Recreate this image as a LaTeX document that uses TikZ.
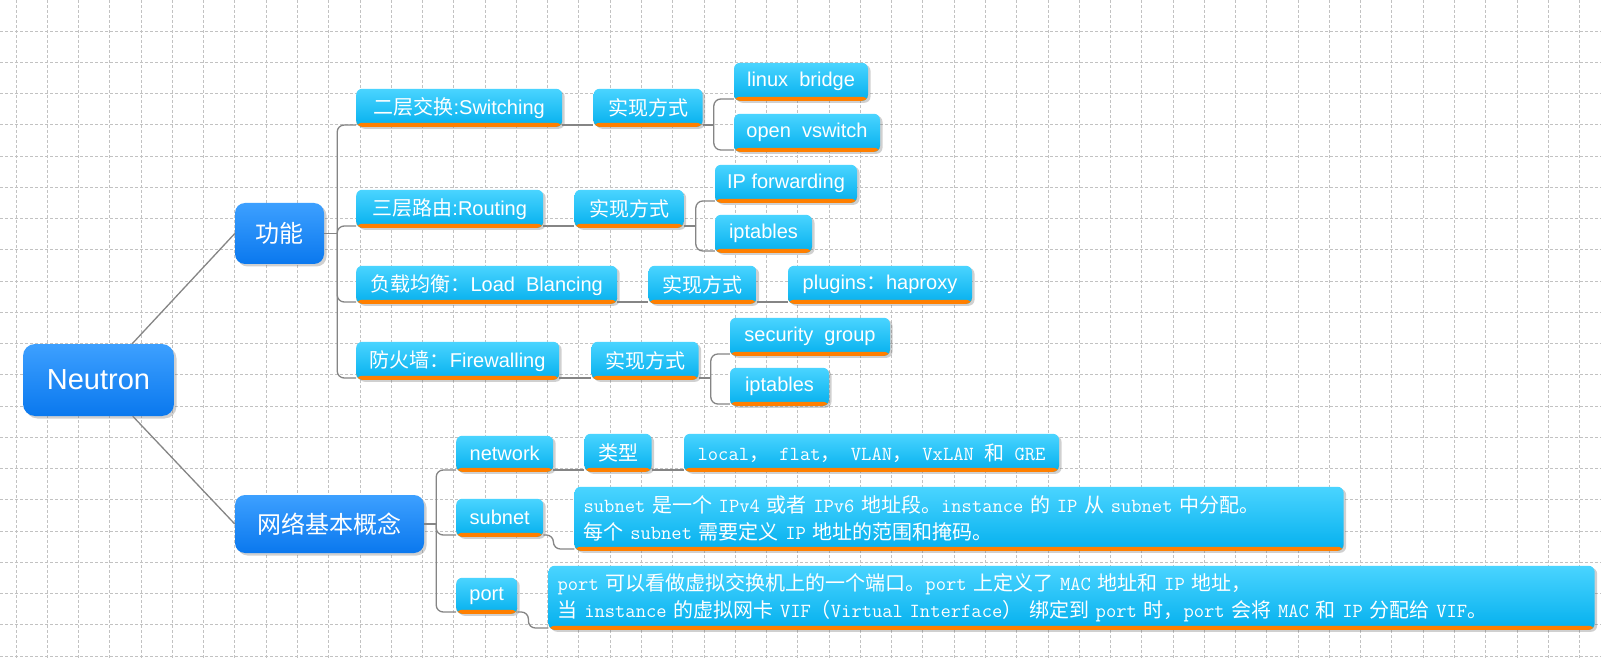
\documentclass[tikz,border=0pt]{standalone}
\usepackage{fontspec}
\setmainfont{Liberation Sans}
\newfontfamily\cjk{Noto Sans CJK SC}
\newcommand{\zh}[1]{{\cjk #1}}
\usetikzlibrary{positioning, shadows}
\definecolor{rootTop}{HTML}{3DA0FF}
\definecolor{rootBot}{HTML}{0A78EE}
\definecolor{leafTop}{HTML}{4AD4FF}
\definecolor{leafBot}{HTML}{04B0EE}
\definecolor{barOrange}{HTML}{FF7F00}
\definecolor{linkGray}{HTML}{858585}
\definecolor{gridGray}{HTML}{C2C2C2}
\tikzset{
  hubbox/.style={rectangle, rounded corners=11pt, top color=rootTop, bottom color=rootBot, text=white, inner sep=0pt,
    drop shadow={shadow xshift=2.5pt, shadow yshift=-2.5pt, opacity=0.3, fill=black!60}},
  topicbox/.style={rectangle, rounded corners=6pt, top color=leafTop, bottom color=leafBot, text=white,
    inner xsep=10pt, inner ysep=0pt, minimum height=38pt, font=\fontsize{20}{24}\selectfont,
    path picture={\fill[barOrange] (path picture bounding box.south west) rectangle ([yshift=4pt]path picture bounding box.south east);},
    drop shadow={shadow xshift=2.5pt, shadow yshift=-2pt, opacity=0.3, fill=black!60}},
  notebox/.style={topicbox, font=\ttfamily\fontsize{20}{27}\selectfont, align=left, inner xsep=9pt, minimum height=64pt},
  linkline/.style={draw=linkGray, line width=1.3pt},
  elbowline/.style={linkline, rounded corners=7pt},
  gridline/.style={draw=gridGray, dash pattern=on 3pt off 2pt, line width=0.8pt}
}
\begin{document}
\begin{tikzpicture}[x=1pt, y=1pt]
\fill[white] (0,0) rectangle (1601,-660);
\useasboundingbox (0,0) rectangle (1601,-660);
% grid
\foreach \gx in {0,...,50}
  \draw[gridline] ({16+31.27*\gx},0) -- ({16+31.27*\gx},-660);
\foreach \gy in {0,...,20}
  \draw[gridline] (0,{-31-31.25*\gy}) -- (1601,{-31-31.25*\gy});

% centre and main branches
\node (neutron) [hubbox, minimum width=151pt, minimum height=72pt, rounded corners=12pt, font=\fontsize{29}{34}\selectfont] at (98.5,-380) {Neutron};
\node (gn) [hubbox, minimum width=89pt, minimum height=61pt, rounded corners=10pt, font=\fontsize{24}{28}\selectfont] at (279.5,-233.5) {\zh{功能}};
\node (wl) [hubbox, minimum width=189pt, minimum height=58pt, rounded corners=10pt, font=\fontsize{24}{28}\selectfont] at (329.5,-524) {\zh{网络基本概念}};

% functions
\node (sw) [topicbox, anchor=south west, minimum width=206pt] at (356,-127) {\zh{二层交换}:Switching};
\node (rt) [topicbox, anchor=south west, minimum width=187pt] at (356,-228) {\zh{三层路由}:Routing};
\node (lb) [topicbox, anchor=south west, minimum width=261pt] at (356,-304) {\zh{负载均衡：}Load~~Blancing};
\node (fw) [topicbox, anchor=south west, minimum width=203pt] at (356,-380) {\zh{防火墙：}Firewalling};

\node (swimpl) [topicbox, right=31pt of sw.south east, anchor=south west, minimum width=109pt] {\zh{实现方式}};
\node (linux) [topicbox, right=31pt of swimpl.south east, anchor=south west, yshift=26pt, minimum width=134pt] {linux~~bridge};
\node (ovs) [topicbox, right=31pt of swimpl.south east, anchor=south west, yshift=-25pt, minimum width=146pt] {open~~vswitch};

\node (rtimpl) [topicbox, right=31pt of rt.south east, anchor=south west, minimum width=109pt] {\zh{实现方式}};
\node (ipfwd) [topicbox, right=31pt of rtimpl.south east, anchor=south west, yshift=25pt, minimum width=142pt] {IP forwarding};
\node (iptrt) [topicbox, right=31pt of rtimpl.south east, anchor=south west, yshift=-25pt, minimum width=97pt] {iptables};

\node (lbimpl) [topicbox, right=31pt of lb.south east, anchor=south west, minimum width=108pt] {\zh{实现方式}};
\node (plug) [topicbox, right=31pt of lbimpl.south east, anchor=south west, minimum width=184pt] {plugins\zh{：}haproxy};

\node (fwimpl) [topicbox, right=32pt of fw.south east, anchor=south west, minimum width=107pt] {\zh{实现方式}};
\node (secgrp) [topicbox, right=31pt of fwimpl.south east, anchor=south west, yshift=24pt, minimum width=160pt] {security~~group};
\node (iptfw) [topicbox, right=31pt of fwimpl.south east, anchor=south west, yshift=-26pt, minimum width=99pt] {iptables};

% basic concepts
\node (nw) [topicbox, anchor=south west, minimum width=97pt, minimum height=36pt] at (456,-472) {network};
\node (sn) [topicbox, anchor=south west, minimum width=87pt] at (456,-537) {subnet};
\node (pt) [topicbox, anchor=south west, minimum width=61pt, minimum height=36pt] at (456,-614) {port};

\node (nwtype) [topicbox, right=31pt of nw.south east, anchor=south west, minimum width=67pt] {\zh{类型}};
\node (nwlist) [topicbox, right=32pt of nwtype.south east, anchor=south west, minimum width=375pt, font=\ttfamily\fontsize{20}{24}\selectfont] {local\zh{，} flat\zh{，} VLAN\zh{，} VxLAN \zh{和} GRE};
\node (sndesc) [notebox, right=31pt of sn.south east, anchor=south west, yshift=-14pt, text width=751pt] {subnet \zh{是一个} IPv4 \zh{或者} IPv6 \zh{地址段。}instance \zh{的} IP \zh{从} subnet \zh{中分配。}\\\zh{每个} subnet \zh{需要定义} IP \zh{地址的范围和掩码。}};
\node (ptdesc) [notebox, right=31pt of pt.south east, anchor=south west, yshift=-16pt, text width=1028pt] {port \zh{可以看做虚拟交换机上的一个端口。}port \zh{上定义了} MAC \zh{地址和} IP \zh{地址，}\\\zh{当} instance \zh{的虚拟网卡} VIF\zh{（}Virtual Interface\zh{）} \zh{绑定到} port \zh{时，}port \zh{会将} MAC \zh{和} IP \zh{分配给} VIF\zh{。}};

% connectors
\draw[linkline] (neutron) -- (gn.west);
\draw[linkline] (neutron) -- (wl.west);

\coordinate (gnj) at ([xshift=13pt]gn.east);
\draw[linkline] (gn.east) -- (gnj);
\foreach \t in {sw,rt,lb,fw}
  \draw[elbowline] (gnj) |- ([yshift=2pt]\t.south west);

\coordinate (wlj) at ([xshift=12pt]wl.east);
\draw[linkline] (wl.east) -- (wlj);
\foreach \t in {nw,sn,pt}
  \draw[elbowline] (wlj) |- ([yshift=2pt]\t.south west);

\draw[linkline] ([yshift=2pt]sw.south east) -- ([yshift=2pt]swimpl.south west);
\draw[linkline] ([yshift=2pt]rt.south east) -- ([yshift=2pt]rtimpl.south west);
\draw[linkline] ([yshift=2pt]lb.south east) -- ([yshift=2pt]lbimpl.south west);
\draw[linkline] ([yshift=2pt]fw.south east) -- ([yshift=2pt]fwimpl.south west);
\draw[linkline] ([yshift=2pt]lbimpl.south east) -- ([yshift=2pt]plug.south west);

\coordinate (swj) at ([xshift=11pt,yshift=2pt]swimpl.south east);
\draw[linkline] ([yshift=2pt]swimpl.south east) -- (swj);
\foreach \t in {linux,ovs}
  \draw[elbowline] (swj) |- ([yshift=2pt]\t.south west);

\coordinate (rtj) at ([xshift=12pt,yshift=2pt]rtimpl.south east);
\draw[linkline] ([yshift=2pt]rtimpl.south east) -- (rtj);
\foreach \t in {ipfwd,iptrt}
  \draw[elbowline] (rtj) |- ([yshift=2pt]\t.south west);

\coordinate (fwj) at ([xshift=12pt,yshift=2pt]fwimpl.south east);
\draw[linkline] ([yshift=2pt]fwimpl.south east) -- (fwj);
\foreach \t in {secgrp,iptfw}
  \draw[elbowline] (fwj) |- ([yshift=2pt]\t.south west);

\draw[linkline] ([yshift=2pt]nw.south east) -- ([yshift=2pt]nwtype.south west);
\draw[linkline] ([yshift=2pt]nwtype.south east) -- ([yshift=2pt]nwlist.south west);
\draw[elbowline] ([yshift=2pt]sn.south east) -- ++(10pt,0) |- ([yshift=2pt]sndesc.south west);
\draw[elbowline] ([yshift=2pt]pt.south east) -- ++(11pt,0) |- ([yshift=2pt]ptdesc.south west);
\end{tikzpicture}
\end{document}
